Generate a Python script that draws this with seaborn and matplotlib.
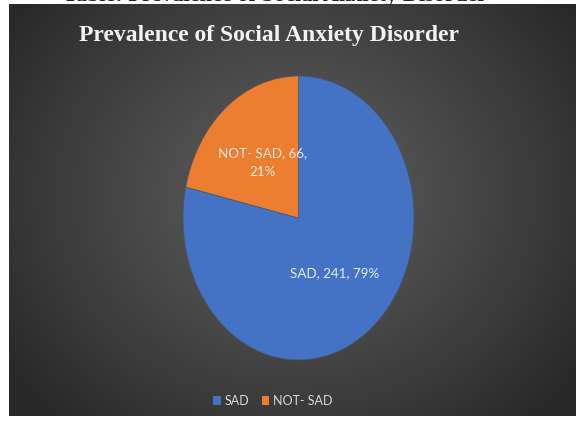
import textwrap
import numpy as np
import matplotlib
matplotlib.use("Agg")
import matplotlib.pyplot as plt
import seaborn as sns
from matplotlib.patches import Patch

# data
categories = ["SAD", "NOT- SAD"]
counts = [241, 66]
colors = ["#4472C4", "#ED7D31"]
chart_title = "Prevalence of Social Anxiety Disorder"
caption = "Table: Prevalence of Social Anxiety Disorder"

sns.set_theme(style="white")
plt.rcParams['font.family'] = ['Lato', 'DejaVu Sans']

W, H = 576, 423
fig = plt.figure(figsize=(W / 100, H / 100), dpi=100)
fig.patch.set_facecolor("white")

# cut-off caption above the panel (panel hides most of it)
fig.text(275 / W, 1 - 1 / H, caption, ha="center", va="baseline", zorder=-5,
         fontsize=16, fontweight="bold", family="Liberation Serif", color="#222222")

# dark radial-gradient panel behind the chart
pw, ph = 567, 412
bg = fig.add_axes([9 / W, 7 / H, pw / W, ph / H])
yy, xx = np.mgrid[0:ph, 0:pw]
d = np.sqrt(((xx - 285) / (pw * 0.62)) ** 2 + ((yy - 190) / (ph * 0.75)) ** 2)
d = np.clip(d, 0, 1) ** 1.2
light = np.array([0x5d, 0x5d, 0x5d]) / 255
dark = np.array([0x28, 0x28, 0x28]) / 255
img = light * (1 - d[..., None]) + dark * d[..., None]
bg.imshow(img, aspect="auto")
bg.axis("off")

# pie (stretched vertically like the reference)
ax = fig.add_axes([183 / W, 63 / H, 231 / W, 284 / H])
wedges, _ = ax.pie(counts, colors=colors, startangle=90, counterclock=False,
                   wedgeprops=dict(edgecolor="#4a5568", linewidth=0.5))
ax.set_aspect("auto")
ax.set_xlim(-1, 1)
ax.set_ylim(-1, 1)

total = sum(counts)
for wdg, cat, n in zip(wedges, categories, counts):
    ang = np.deg2rad((wdg.theta1 + wdg.theta2) / 2)
    pct = round(100 * n / total)
    label = textwrap.fill(f"{cat}, {n}, {pct}%", width=14)
    ax.text(0.5 * np.cos(ang), 0.5 * np.sin(ang), label, ha="center", va="center",
            fontsize=9.6, color="white", alpha=0.85, linespacing=1.6)

fig.text(269 / W, 1 - 35 / H, chart_title, ha="center", va="center",
         fontsize=17, fontweight="bold", family="Liberation Serif", color="#f2f2f2")

handles = [Patch(facecolor=c, edgecolor="none") for c in colors]
fig.legend(handles, categories, loc="center", bbox_to_anchor=(273 / W, 1 - 401 / H),
           ncol=2, frameon=False, fontsize=9, labelcolor="#d9d9d9",
           handlelength=0.6, handleheight=0.8, handletextpad=0.3, columnspacing=1.0)

fig.savefig("out.png", dpi=100)
